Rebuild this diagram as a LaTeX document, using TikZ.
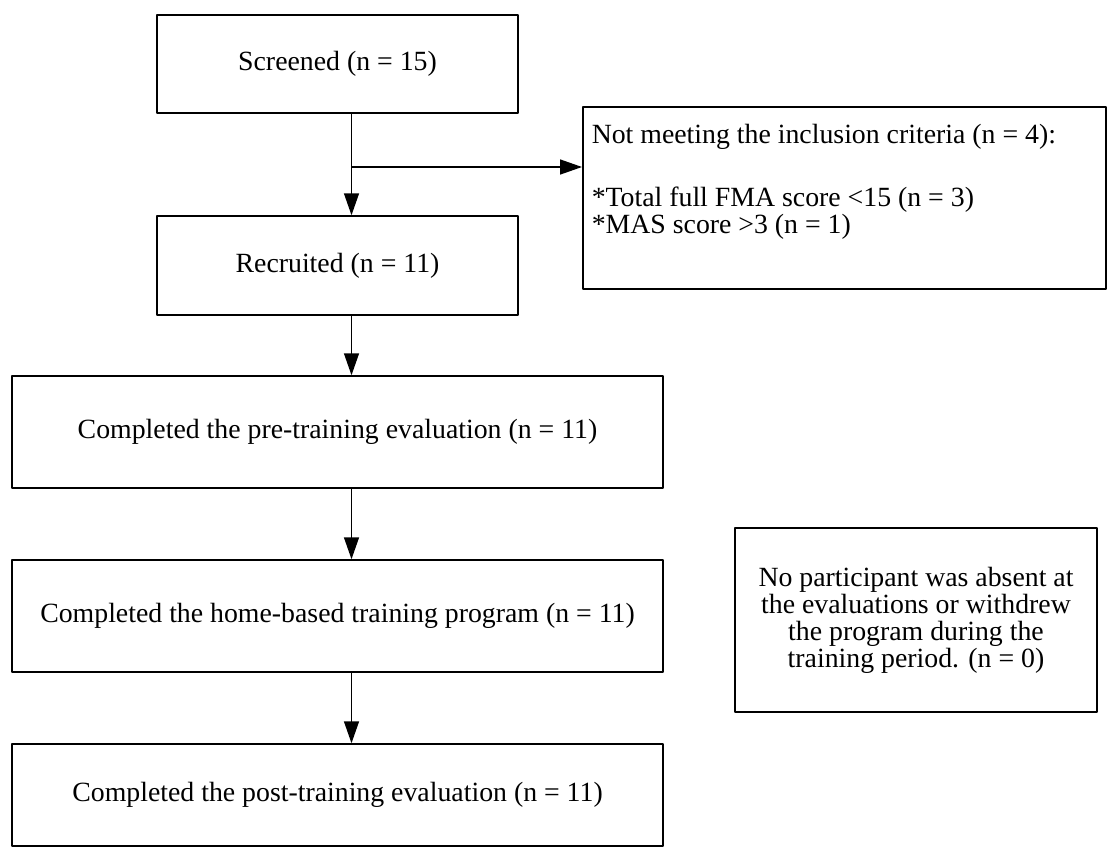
\documentclass[tikz,border=0pt]{standalone}
\usepackage{fontspec}
\setmainfont{Liberation Serif}
\usetikzlibrary{arrows.meta}

\begin{document}
\begin{tikzpicture}[line join=round,>={Triangle[length=22pt,width=15pt]},x=1pt,y=-1pt,line width=1.5pt]
	\tikzset{every node/.style={font=\fontsize{27.8}{27}\selectfont, inner sep=0pt}}
	\tikzset{box/.style={draw, minimum width=361pt, minimum height=98pt},
		wide/.style={draw, minimum width=651pt, minimum height=112pt}}
	\useasboundingbox (0,0) rectangle (1108,848);
	\clip (0,0) rectangle (1108,848);
	\node[box] (screen) at (337.5,64) {Screened (n = 15)};
	\node[box, minimum height=99pt] (recruit) at (337.5,265.5) {Recruited (n = 11)};
	\node[wide] (pre) at (337.5,432) {Completed the pre-training evaluation (n = 11)};
	\node[wide] (home) at (337.5,616) {Completed the home-based training program (n = 11)};
	\node[wide, minimum height=102pt] (post) at (337.5,795) {Completed the post-training evaluation (n = 11)};
	\node[draw, minimum width=523pt, minimum height=182pt, anchor=west] (excl) at (582,198) {};
	\node[anchor=north west, align=left] (excltxt) at (591,123) {Not meeting the inclusion criteria (n = 4):\\[36pt]{}*Total full FMA score <15 (n = 3)\\{}*MAS score >3 (n = 1)};
	\node[draw, minimum width=362pt, minimum height=184pt, align=center] (none) at (916,620) {No participant was absent at\\the evaluations or withdrew\\the program during the\\training period. (n = 0)};
	\coordinate (split) at (351.5,167);
	\draw[->] ([xshift=14pt]screen.south) -- ([xshift=14pt]recruit.north);
	\draw[->] (split) -- (split -| excl.west);
	\draw[->] ([xshift=14pt]recruit.south) -- ([xshift=14pt]pre.north);
	\draw[->] ([xshift=14pt]pre.south) -- ([xshift=14pt]home.north);
	\draw[->] ([xshift=14pt]home.south) -- ([xshift=14pt]post.north);
\end{tikzpicture}
\end{document}
